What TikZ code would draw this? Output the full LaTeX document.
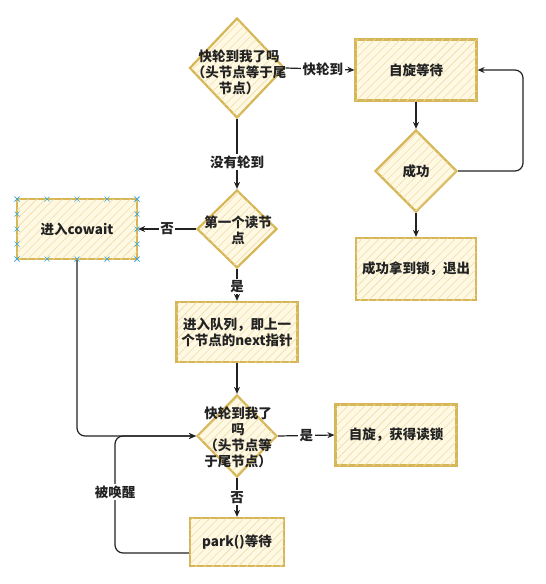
\documentclass[tikz,border=0pt]{standalone}
\usepackage{fontspec}
\setmainfont{Noto Sans CJK SC}
\usetikzlibrary{shapes.geometric,arrows.meta,patterns.meta}
\definecolor{boxfill}{HTML}{FFF9E4}
\definecolor{boxline}{HTML}{D6B656}
\definecolor{hatch}{HTML}{EEDDA8}
\definecolor{ink}{HTML}{222222}
\definecolor{handle}{HTML}{3FA9D8}
\begin{document}
\begin{tikzpicture}[x=1pt,y=-1pt,
  font=\fontsize{13.5}{16}\selectfont\bfseries,
  shapebase/.style={draw=boxline, line width=2.2pt, fill=boxfill,
    postaction={pattern={Lines[angle=45,distance=6pt,line width=0.6pt]}, pattern color=hatch},
    inner sep=0pt},
  box/.style={shapebase, rectangle},
  dia/.style={shapebase, diamond},
  txt/.style={align=center, text=ink, inner sep=0pt},
  conn/.style={draw=ink, line width=1.2pt, -{Stealth[length=7pt,width=6pt]}},
  lab/.style={fill=white, text=ink, inner sep=1.5pt}]
\useasboundingbox (0,0) rectangle (546,584);

% shapes
\node[dia, minimum width=95pt, minimum height=100pt] (d1) at (237,68) {};
\node[txt] (d1t) at (239,72) {快轮到我了吗\\（头节点等于尾\\节点）};
\node[box, minimum width=121pt, minimum height=61pt] (spin) at (416,70) {};
\node[txt] (spint) at (spin) {自旋等待};
\node[dia, minimum width=82pt, minimum height=82pt] (ok) at (416,171) {};
\node[txt] (okt) at (ok) {成功};
\node[box, minimum width=120pt, minimum height=62pt] (exit) at (416,269) {};
\node[txt] (exitt) at (exit) {成功拿到锁，退出};

\node[dia, minimum width=80pt, minimum height=78pt] (d2) at (237,229) {};
\node[txt] (d2t) at (238,230) {第一个读节\\点};
\node[box, minimum width=120pt, minimum height=60pt] (cw) at (77,229) {};
\node[txt] (cwt) at (cw) {进入cowait};
\node[box, minimum width=121pt, minimum height=60pt] (queue) at (237,332) {};
\node[txt] (queuet) at (queue) {进入队列，即上一\\个节点的next指针};

\node[dia, minimum width=80pt, minimum height=82pt] (d3) at (237,436) {};
\node[txt] (d3t) at (238,437) {快轮到我了\\吗\\（头节点等\\于尾节点）};
\node[box, minimum width=121pt, minimum height=61pt] (rd) at (396,435) {};
\node[txt] (rdt) at (rd) {自旋，获得读锁};
\node[box, minimum width=94pt, minimum height=48pt] (park) at (237,542) {};
\node[txt] (parkt) at (park) {park()等待};

% selection handles on cowait box
\foreach \i in {0,...,4} {
  \foreach \px/\py in {{17+30*\i}/199, {17+30*\i}/259, 17/{199+15*\i}, 137/{199+15*\i}} {
    \draw[handle, line width=0.7pt] ({\px-2.5},{\py-2.5}) -- ({\px+2.5},{\py+2.5})
      ({\px-2.5},{\py+2.5}) -- ({\px+2.5},{\py-2.5});
  }
}

% connectors
\draw[conn] (d1.east) -- node[lab, pos=0.54] {快轮到} (spin.west);
\draw[conn] (spin.south) -- (ok.north);
\draw[conn] (ok.south) -- (exit.north);
\draw[conn, rounded corners=8pt] (ok.east) -- (523,171) |- (spin.east);
\draw[conn] (d1.south) -- node[lab, pos=0.62] {没有轮到} (d2.north);
\draw[conn] (d2.west) -- node[lab, pos=0.5] {否} (cw.east);
\draw[conn] (d2.south) -- node[lab, pos=0.55] {是} (queue.north);
\draw[conn] (queue.south) -- (d3.north);
\draw[conn, rounded corners=8pt] (cw.south) |- (d3.west);
\draw[conn] (d3.east) -- node[lab, pos=0.5] {是} (rd.west);
\draw[conn] (d3.south) -- node[lab, pos=0.5] {否} (park.north);
\draw[conn, rounded corners=8pt] ([yshift=-11pt]park.west) -| (115,436) -- (d3.west);
\node[lab] (wake) at (115,492) {被唤醒};
\end{tikzpicture}
\end{document}
